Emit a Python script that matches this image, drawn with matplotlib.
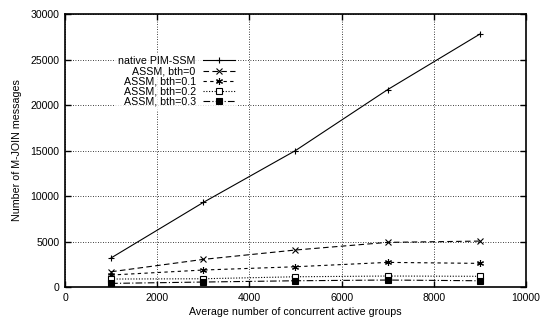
import matplotlib
matplotlib.use("Agg")
import matplotlib.pyplot as plt
from matplotlib.ticker import MultipleLocator

plt.rcParams['font.family'] = ['Liberation Sans', 'DejaVu Sans']

groups = [1000, 3000, 5000, 7000, 9000]
native = [3200, 9300, 15000, 21700, 27800]
bth0 = [1680, 3040, 4070, 4910, 5050]
bth01 = [1320, 1870, 2230, 2710, 2600]
bth02 = [880, 910, 1130, 1210, 1180]
bth03 = [400, 550, 690, 770, 690]
labels = ["native PIM-SSM", "ASSM, bth=0", "ASSM, bth=0.1", "ASSM, bth=0.2", "ASSM, bth=0.3"]

fig = plt.figure(figsize=(5.4, 3.2), dpi=100)
ax = fig.add_axes([0.1204, 0.103, 0.8536, 0.853])

lw = 0.8
ax.plot(groups, native, color='black', lw=lw, ls='-', marker='+', ms=5, mew=0.8, label=labels[0])
ax.plot(groups, bth0, color='black', lw=lw, ls=(0, (5, 3)), marker='x', ms=4.5, mew=0.8, label=labels[1])
ax.plot(groups, bth01, color='black', lw=lw, ls=(0, (3, 3)), marker=(6, 2, 0), ms=5, mew=0.8, label=labels[2])
ax.plot(groups, bth02, color='black', lw=lw, ls=(0, (1, 1.5)), marker='s', ms=4, mew=0.8, mfc='white', label=labels[3])
ax.plot(groups, bth03, color='black', lw=lw, ls=(0, (6, 2, 1, 2)), marker='s', ms=4.5, mew=0.8, mfc='black', label=labels[4])

ax.set_xlim(0, 10000)
ax.set_ylim(0, 30000)
ax.xaxis.set_major_locator(MultipleLocator(2000))
ax.yaxis.set_major_locator(MultipleLocator(5000))
ax.grid(True, ls=(0, (1, 2)), color='black', lw=0.6)
ax.tick_params(direction='in', top=True, right=True, length=4, width=1, labelsize=7.6, pad=4)
for s in ax.spines.values():
    s.set_linewidth(1.2)

ax.set_xlabel("Average number of concurrent active groups", fontsize=7.7, labelpad=3)
ax.set_ylabel("Number of M-JOIN messages", fontsize=7.7, labelpad=6)

leg = ax.legend(loc='upper right', bbox_to_anchor=(0.375, 0.858), markerfirst=False, frameon=True,
                fontsize=7.7, handlelength=3.0, handletextpad=0.65, labelspacing=0.02,
                borderpad=0.3, borderaxespad=0)
leg.get_frame().set_facecolor('white')
leg.get_frame().set_edgecolor('none')
leg.get_frame().set_boxstyle('square', pad=0)

fig.savefig("out.png", dpi=100)
